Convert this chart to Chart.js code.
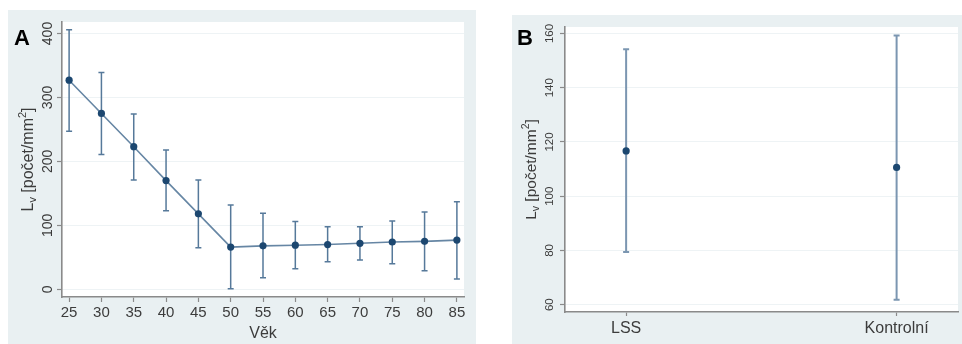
<!DOCTYPE html>
<html>
<head>
<meta charset="utf-8">
<script src="https://cdn.jsdelivr.net/npm/chart.js@4/dist/chart.umd.min.js"></script>
<style>
  html, body { margin: 0; padding: 0; background: #ffffff; width: 962px; height: 344px; overflow: hidden; }
  .panel { position: absolute; background: #e9f0f2; }
  canvas { display: block; }
</style>
</head>
<body>
<div class="panel" style="left:8px;top:10px;width:468px;height:334px;"><canvas id="ca" width="468" height="334"></canvas></div>
<div class="panel" style="left:512px;top:15px;width:450px;height:329px;"><canvas id="cb" width="450" height="329"></canvas></div>
<script>
// ---- Panel A data ----
const ages   = [25, 30, 35, 40, 45, 50, 55, 60, 65, 70, 75, 80, 85];
const meanA  = [327, 275, 223, 170, 118, 66, 68, 69, 70, 72, 74, 75, 77];
const upperA = [406, 339, 274, 218, 171, 132, 119, 106, 98, 98, 107, 121, 137];
const lowerA = [247, 211, 171, 123, 65, 1, 18, 32, 43, 46, 40, 29, 16];
const yTicksA = [0, 100, 200, 300, 400];
const xTicksA = [25, 30, 35, 40, 45, 50, 55, 60, 65, 70, 75, 80, 85];

// ---- Panel B data ----
const groupsB = ['LSS', 'Kontrolní'];
const meanB  = [116.7, 110.6];
const upperB = [154.2, 159.3];
const lowerB = [79.4, 61.8];
const yTicksB = [60, 80, 100, 120, 140, 160];

// y-axis title pieces: L with subscript v, "[počet/mm" with superscript 2
const yTitleParts = [
  { t: 'L', s: 1, dy: 0 },
  { t: 'v', s: 0.68, dy: 0.22 },
  { t: ' [počet/mm', s: 1, dy: 0 },
  { t: '2', s: 0.68, dy: -0.42 },
  { t: ']', s: 1, dy: 0 }
];
const FONT = "'Liberation Sans', Arial, sans-serif";

function makePlugin(cfg) {
  return {
    id: 'custom' + cfg.letter,
    beforeDraw(chart) {
      const a = chart.chartArea, ctx = chart.ctx;
      ctx.save();
      ctx.fillStyle = '#ffffff';
      ctx.fillRect(a.left, a.top, a.right - a.left, a.bottom - a.top);
      ctx.restore();
    },
    beforeDatasetsDraw(chart) {
      const ctx = chart.ctx, xs = chart.scales.x, ys = chart.scales.y;
      ctx.save();
      ctx.strokeStyle = cfg.barColor;
      ctx.lineWidth = cfg.barWidth;
      cfg.xs.forEach((xv, i) => {
        const px = xs.getPixelForValue(xv);
        const pu = ys.getPixelForValue(cfg.upper[i]);
        const pl = ys.getPixelForValue(cfg.lower[i]);
        ctx.beginPath();
        ctx.moveTo(px, pu); ctx.lineTo(px, pl);
        ctx.moveTo(px - cfg.cap, pu); ctx.lineTo(px + cfg.cap, pu);
        ctx.moveTo(px - cfg.cap, pl); ctx.lineTo(px + cfg.cap, pl);
        ctx.stroke();
      });
      ctx.restore();
    },
    afterDraw(chart) {
      const ctx = chart.ctx, ys = chart.scales.y, a = chart.chartArea;
      ctx.save();
      // rotated y tick labels
      ctx.fillStyle = '#3c3c3c';
      ctx.font = cfg.tickSize + 'px ' + FONT;
      ctx.textAlign = 'center';
      ctx.textBaseline = 'middle';
      cfg.yTicks.forEach(v => {
        const py = ys.getPixelForValue(v);
        ctx.save();
        ctx.translate(cfg.tickLabelX, py);
        ctx.rotate(-Math.PI / 2);
        ctx.fillText(String(v), 0, 0);
        ctx.restore();
      });
      // rotated y axis title
      const f = cfg.titleSize;
      let total = 0;
      const widths = yTitleParts.map(p => {
        ctx.font = (f * p.s) + 'px ' + FONT;
        const w = ctx.measureText(p.t).width;
        total += w;
        return w;
      });
      ctx.save();
      ctx.translate(cfg.titleX, (a.top + a.bottom) / 2);
      ctx.rotate(-Math.PI / 2);
      ctx.textAlign = 'left';
      ctx.textBaseline = 'alphabetic';
      let x = -total / 2;
      const base = f * 0.36;
      yTitleParts.forEach((p, i) => {
        ctx.font = (f * p.s) + 'px ' + FONT;
        ctx.fillText(p.t, x, base + p.dy * f);
        x += widths[i];
      });
      ctx.restore();
      // panel letter
      ctx.fillStyle = '#000000';
      ctx.font = 'bold 22px ' + FONT;
      ctx.textAlign = 'left';
      ctx.textBaseline = 'alphabetic';
      ctx.fillText(cfg.letter, cfg.letterX, cfg.letterY);
      ctx.restore();
    }
  };
}

function fixTicks(list) {
  return function(scale) { scale.ticks = list.map(v => ({ value: v })); };
}

// ---- Chart A ----
new Chart(document.getElementById('ca'), {
  type: 'line',
  data: {
    datasets: [{
      data: ages.map((a, i) => ({ x: a, y: meanA[i] })),
      borderColor: '#6686a4',
      borderWidth: 1.6,
      pointRadius: 3.6,
      pointBackgroundColor: '#1c4770',
      pointBorderColor: '#1c4770',
      pointBorderWidth: 0,
      tension: 0,
      fill: false
    }]
  },
  options: {
    responsive: false,
    devicePixelRatio: 1,
    animation: false,
    layout: { padding: { top: 12, right: 12, left: 0, bottom: 0 } },
    plugins: { legend: { display: false }, tooltip: { enabled: false } },
    scales: {
      x: {
        type: 'linear', min: 23.9, max: 86.1,
        afterBuildTicks: fixTicks(xTicksA),
        afterFit(s) { s.height = 47; },
        grid: { drawOnChartArea: false, drawTicks: true, tickLength: 5, tickColor: '#8a8a8a', tickWidth: 1.2 },
        border: { color: '#8a8a8a', width: 1.6 },
        ticks: { color: '#3c3c3c', font: { family: FONT, size: 15 }, padding: 2, maxRotation: 0 },
        title: { display: true, text: 'Věk', color: '#3c3c3c', font: { family: FONT, size: 16 }, padding: { top: 0, bottom: 1 } }
      },
      y: {
        type: 'linear', min: -12, max: 418,
        afterBuildTicks: fixTicks(yTicksA),
        afterFit(s) { s.width = 54; },
        grid: { color: '#eef3f5', lineWidth: 1, drawTicks: true, tickLength: 5, tickColor: '#8a8a8a', tickWidth: 1.2 },
        border: { color: '#8a8a8a', width: 1.6 },
        ticks: { display: false }
      }
    }
  },
  plugins: [makePlugin({
    letter: 'A', letterX: 6, letterY: 35,
    xs: ages, upper: upperA, lower: lowerA, yTicks: yTicksA,
    barColor: '#56799a', barWidth: 1.5, cap: 3,
    tickSize: 14, tickLabelX: 40,
    titleSize: 16, titleX: 19
  })]
});

// ---- Chart B ----
new Chart(document.getElementById('cb'), {
  type: 'scatter',
  data: {
    datasets: [{
      data: groupsB.map((g, i) => ({ x: i + 1, y: meanB[i] })),
      pointRadius: 3.6,
      pointBackgroundColor: '#1c4770',
      pointBorderColor: '#1c4770',
      pointBorderWidth: 0,
      showLine: false
    }]
  },
  options: {
    responsive: false,
    devicePixelRatio: 1,
    animation: false,
    layout: { padding: { top: 12, right: 0, left: 0, bottom: 0 } },
    plugins: { legend: { display: false }, tooltip: { enabled: false } },
    scales: {
      x: {
        type: 'linear', min: 0.774, max: 2.227,
        afterBuildTicks: fixTicks(groupsB.map((g, i) => i + 1)),
        afterFit(s) { s.height = 32; },
        grid: { drawOnChartArea: false, drawTicks: true, tickLength: 4, tickColor: '#8a8a8a', tickWidth: 1.2 },
        border: { color: '#8a8a8a', width: 1.6 },
        ticks: {
          color: '#3c3c3c', font: { family: FONT, size: 16 }, padding: 3, maxRotation: 0,
          callback: (v) => groupsB[Math.round(v) - 1]
        }
      },
      y: {
        type: 'linear', min: 57.3, max: 162.4,
        afterBuildTicks: fixTicks(yTicksB),
        afterFit(s) { s.width = 53; },
        grid: { color: '#eef3f5', lineWidth: 1, drawTicks: true, tickLength: 5, tickColor: '#8a8a8a', tickWidth: 1.2 },
        border: { color: '#8a8a8a', width: 1.6 },
        ticks: { display: false }
      }
    }
  },
  plugins: [makePlugin({
    letter: 'B', letterX: 5, letterY: 30,
    xs: [1, 2], upper: upperB, lower: lowerB, yTicks: yTicksB,
    barColor: '#7b96b1', barWidth: 2, cap: 3,
    tickSize: 11.5, tickLabelX: 38,
    titleSize: 15.5, titleX: 18
  })]
});
</script>
</body>
</html>
